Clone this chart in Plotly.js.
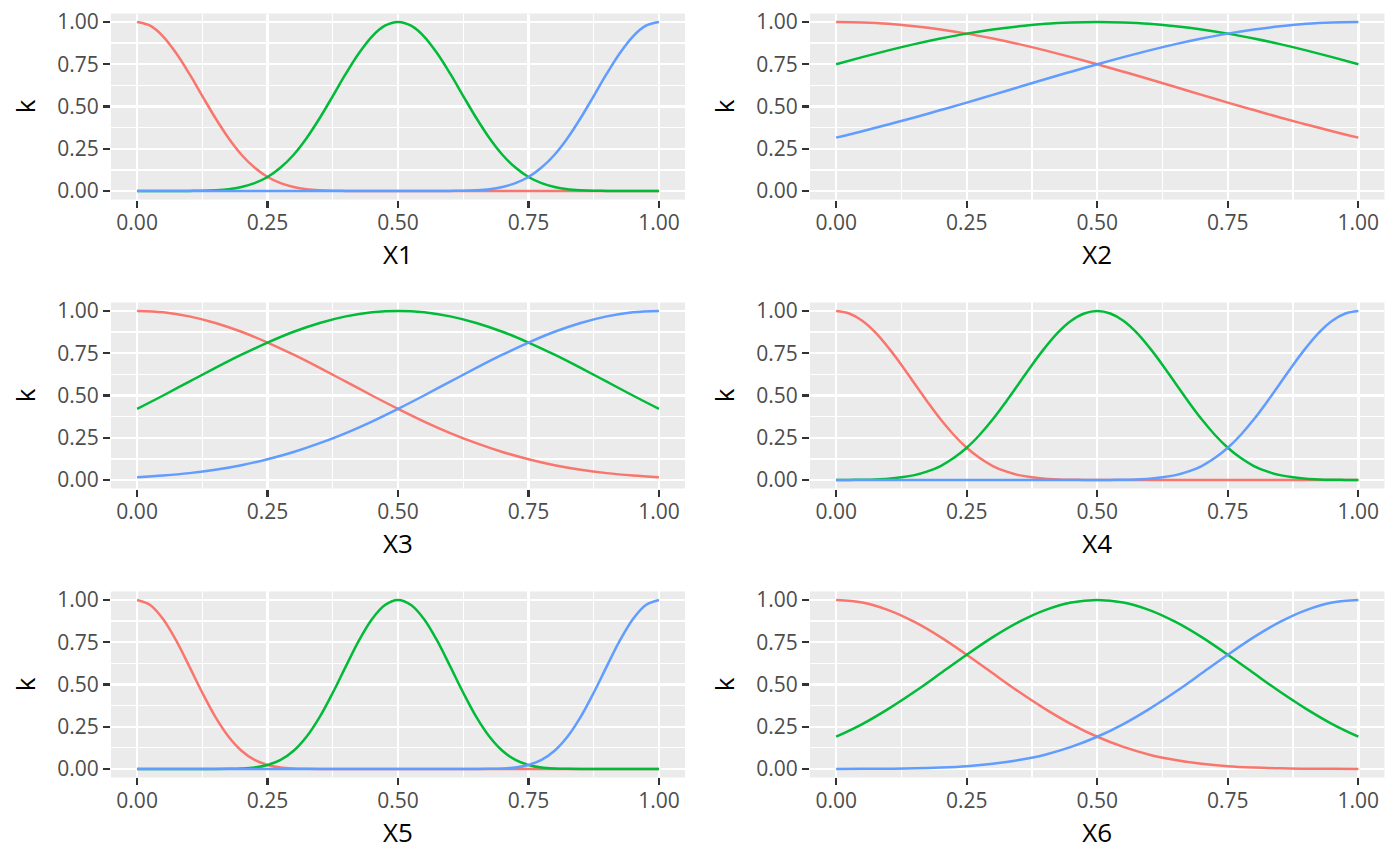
<!DOCTYPE html>
<html>
<head>
<meta charset="utf-8">
<script src="https://cdn.plot.ly/plotly-3.0.1.min.js"></script>
<style>
  body { margin: 0; background: #ffffff; }
  #chart { width: 1400px; height: 866px; }
</style>
</head>
<body>
<div id="chart"></div>
<script>
// x positions: coarse grid for the wide kernels, fine grid for the narrow ones
var xs = [0, 0.05, 0.1, 0.15, 0.2, 0.25, 0.3, 0.35, 0.4, 0.45, 0.5,
          0.55, 0.6, 0.65, 0.7, 0.75, 0.8, 0.85, 0.9, 0.95, 1];
var xsFine = [0, 0.025, 0.05, 0.075, 0.1, 0.125, 0.15, 0.175, 0.2, 0.225, 0.25,
              0.275, 0.3, 0.325, 0.35, 0.375, 0.4, 0.425, 0.45, 0.475, 0.5,
              0.525, 0.55, 0.575, 0.6, 0.625, 0.65, 0.675, 0.7, 0.725, 0.75,
              0.775, 0.8, 0.825, 0.85, 0.875, 0.9, 0.925, 0.95, 0.975, 1];

// panel X1 (fine grid)
var red1 = [1, 0.978, 0.914, 0.815, 0.694, 0.562, 0.432, 0.314, 0.215, 0.139, 0.083, 0.047, 0.024, 0.011, 0.005, 0.002, 0.001,
            0, 0, 0, 0, 0, 0, 0, 0, 0, 0, 0, 0, 0, 0, 0, 0, 0, 0, 0, 0, 0, 0, 0, 0];
var green1 = [0, 0, 0, 0, 0.001, 0.002, 0.005, 0.011, 0.024, 0.047, 0.083, 0.139, 0.215, 0.314, 0.432, 0.562, 0.694, 0.815, 0.914, 0.978,
              1, 0.978, 0.914, 0.815, 0.694, 0.562, 0.432, 0.314, 0.215, 0.139, 0.083, 0.047, 0.024, 0.011, 0.005, 0.002, 0.001, 0, 0, 0, 0];
var blue1 = [0, 0, 0, 0, 0, 0, 0, 0, 0, 0, 0, 0, 0, 0, 0, 0, 0, 0, 0, 0, 0, 0, 0, 0,
             0.001, 0.002, 0.005, 0.011, 0.024, 0.047, 0.083, 0.139, 0.215, 0.314, 0.432, 0.562, 0.694, 0.815, 0.914, 0.978, 1];

// panel X2
var red2 = [1, 0.997, 0.989, 0.974, 0.955, 0.931, 0.902, 0.869, 0.832, 0.792, 0.750, 0.706, 0.661, 0.615, 0.569, 0.523, 0.479, 0.435, 0.394, 0.354, 0.316];
var green2 = [0.750, 0.792, 0.832, 0.869, 0.902, 0.931, 0.955, 0.974, 0.989, 0.997, 1, 0.997, 0.989, 0.974, 0.955, 0.931, 0.902, 0.869, 0.832, 0.792, 0.750];
var blue2 = [0.316, 0.354, 0.394, 0.435, 0.479, 0.523, 0.569, 0.615, 0.661, 0.706, 0.750, 0.792, 0.832, 0.869, 0.902, 0.931, 0.955, 0.974, 0.989, 0.997, 1];

// panel X3
var red3 = [1, 0.992, 0.968, 0.929, 0.877, 0.813, 0.741, 0.663, 0.582, 0.500, 0.421, 0.346, 0.278, 0.218, 0.166, 0.123, 0.088, 0.061, 0.041, 0.027, 0.017];
var green3 = [0.421, 0.500, 0.582, 0.663, 0.741, 0.813, 0.877, 0.929, 0.968, 0.992, 1, 0.992, 0.968, 0.929, 0.877, 0.813, 0.741, 0.663, 0.582, 0.500, 0.421];
var blue3 = [0.017, 0.027, 0.041, 0.061, 0.088, 0.123, 0.166, 0.218, 0.278, 0.346, 0.421, 0.500, 0.582, 0.663, 0.741, 0.813, 0.877, 0.929, 0.968, 0.992, 1];

// panel X4 (fine grid)
var red4 = [1, 0.985, 0.942, 0.873, 0.783, 0.681, 0.571, 0.462, 0.359, 0.268, 0.191, 0.130, 0.083, 0.051, 0.029, 0.016, 0.008, 0.004, 0.002, 0.001,
            0, 0, 0, 0, 0, 0, 0, 0, 0, 0, 0, 0, 0, 0, 0, 0, 0, 0, 0, 0, 0];
var green4 = [0, 0.001, 0.002, 0.004, 0.008, 0.016, 0.029, 0.051, 0.083, 0.130, 0.191, 0.268, 0.359, 0.462, 0.571, 0.681, 0.783, 0.873, 0.942, 0.985,
              1, 0.985, 0.942, 0.873, 0.783, 0.681, 0.571, 0.462, 0.359, 0.268, 0.191, 0.130, 0.083, 0.051, 0.029, 0.016, 0.008, 0.004, 0.002, 0.001, 0];
var blue4 = [0, 0, 0, 0, 0, 0, 0, 0, 0, 0, 0, 0, 0, 0, 0, 0, 0, 0, 0, 0, 0,
             0.001, 0.002, 0.004, 0.008, 0.016, 0.029, 0.051, 0.083, 0.130, 0.191, 0.268, 0.359, 0.462, 0.571, 0.681, 0.783, 0.873, 0.942, 0.985, 1];

// panel X5 (fine grid)
var red5 = [1, 0.970, 0.886, 0.759, 0.607, 0.451, 0.308, 0.192, 0.108, 0.054, 0.024, 0.009, 0.003, 0.001,
            0, 0, 0, 0, 0, 0, 0, 0, 0, 0, 0, 0, 0, 0, 0, 0, 0, 0, 0, 0, 0, 0, 0, 0, 0, 0, 0];
var green5 = [0, 0, 0, 0, 0, 0, 0, 0.001, 0.003, 0.009, 0.024, 0.054, 0.108, 0.192, 0.308, 0.451, 0.607, 0.759, 0.886, 0.970,
              1, 0.970, 0.886, 0.759, 0.607, 0.451, 0.308, 0.192, 0.108, 0.054, 0.024, 0.009, 0.003, 0.001, 0, 0, 0, 0, 0, 0, 0];
var blue5 = [0, 0, 0, 0, 0, 0, 0, 0, 0, 0, 0, 0, 0, 0, 0, 0, 0, 0, 0, 0, 0, 0, 0, 0, 0, 0, 0,
             0.001, 0.003, 0.009, 0.024, 0.054, 0.108, 0.192, 0.308, 0.451, 0.607, 0.759, 0.886, 0.970, 1];

// panel X6
var red6 = [1, 0.985, 0.940, 0.870, 0.780, 0.676, 0.566, 0.457, 0.356, 0.266, 0.191, 0.131, 0.085, 0.053, 0.031, 0.017, 0.009, 0.004, 0.002, 0.001, 0];
var green6 = [0.191, 0.266, 0.356, 0.457, 0.566, 0.676, 0.780, 0.870, 0.940, 0.985, 1, 0.985, 0.940, 0.870, 0.780, 0.676, 0.566, 0.457, 0.356, 0.266, 0.191];
var blue6 = [0, 0.001, 0.002, 0.004, 0.009, 0.017, 0.031, 0.053, 0.085, 0.131, 0.191, 0.266, 0.356, 0.457, 0.566, 0.676, 0.780, 0.870, 0.940, 0.985, 1];

var panelNames = ['X1', 'X2', 'X3', 'X4', 'X5', 'X6'];
var panelX = [xsFine, xs, xs, xsFine, xsFine, xs];
var panelSeries = [
    [red1, green1, blue1],
    [red2, green2, blue2],
    [red3, green3, blue3],
    [red4, green4, blue4],
    [red5, green5, blue5],
    [red6, green6, blue6]
];
var tickVals = [0, 0.25, 0.5, 0.75, 1];
var tickText = ['0.00', '0.25', '0.50', '0.75', '1.00'];

var lineColors = ['#F8766D', '#00BA38', '#619CFF'];

// panel positions (paper fractions)
var colDomains = [[0.0793, 0.4893], [0.5786, 0.9889]];
var rowDomains = [[0.7696, 0.9844], [0.4359, 0.6507], [0.1022, 0.3170]];

var traces = [];
var layout = {
    width: 1400,
    height: 866,
    margin: {l: 0, r: 0, t: 0, b: 0},
    paper_bgcolor: '#ffffff',
    plot_bgcolor: '#EBEBEB',
    showlegend: false,
    font: {family: 'Open Sans, Noto Sans, sans-serif', color: '#4D4D4D'}
};

function axisStyle() {
    return {
        range: [-0.05, 1.05],
        tickvals: tickVals,
        ticktext: tickText,
        showgrid: true,
        gridcolor: '#ffffff',
        gridwidth: 2.4,
        minor: {tickvals: [0.125, 0.375, 0.625, 0.875], showgrid: true, gridcolor: '#ffffff', gridwidth: 1.2, ticks: ''},
        zeroline: false,
        showline: false,
        ticks: 'outside',
        ticklen: 7,
        tickwidth: 2.2,
        tickcolor: '#333333',
        tickfont: {size: 21, color: '#4D4D4D'},
        fixedrange: true
    };
}

panelNames.forEach(function (name, i) {
    var n = i + 1;
    var suffix = n === 1 ? '' : String(n);
    var row = Math.floor(i / 2);
    var col = i % 2;

    panelSeries[i].forEach(function (ys, j) {
        traces.push({
            x: panelX[i],
            y: ys,
            xaxis: 'x' + suffix,
            yaxis: 'y' + suffix,
            type: 'scatter',
            mode: 'lines',
            line: {color: lineColors[j], width: 2.5, shape: 'spline', smoothing: 1},
            hoverinfo: 'skip'
        });
    });

    var xa = axisStyle();
    xa.domain = colDomains[col];
    xa.anchor = 'y' + suffix;
    xa.ticklabelstandoff = -3;
    xa.title = {text: name, font: {size: 26, color: '#000000'}, standoff: 8};
    var ya = axisStyle();
    ya.domain = rowDomains[row];
    ya.anchor = 'x' + suffix;
    ya.title = {text: 'k', font: {size: 26, color: '#000000'}, standoff: 14};

    layout['xaxis' + suffix] = xa;
    layout['yaxis' + suffix] = ya;
});

Plotly.newPlot(document.getElementById('chart'), traces, layout, {displayModeBar: false, staticPlot: true});
</script>
</body>
</html>
